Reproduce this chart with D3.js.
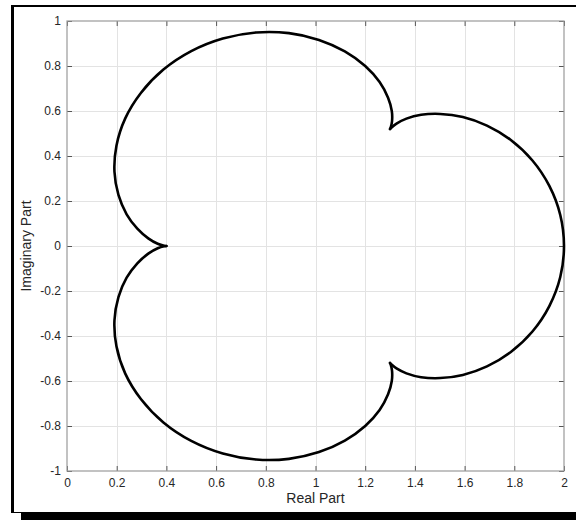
<!DOCTYPE html>
<html lang="en">
<head>
<meta charset="UTF-8">
<style>
  body { margin: 0; background: #fff; }
  text { font-family: "Liberation Sans", Arial, sans-serif; }
</style>
</head>
<body>
<svg id="chart" width="576" height="520"></svg>
<script src="https://d3js.org/d3.v7.min.js"></script>
<script>
// curve points [real, imaginary], one lobe per array (cusp to cusp)
var lobeLowerLeft = [
  [0.400, 0.000], [0.391, -0.001], [0.365, -0.010], [0.327, -0.034], [0.283, -0.077],
  [0.240, -0.141], [0.207, -0.227], [0.191, -0.330], [0.199, -0.446], [0.234, -0.566],
  [0.298, -0.681], [0.388, -0.784], [0.500, -0.866], [0.627, -0.922], [0.761, -0.949],
  [0.893, -0.946], [1.014, -0.916], [1.118, -0.865], [1.200, -0.800], [1.258, -0.729],
  [1.292, -0.659], [1.307, -0.600], [1.308, -0.555], [1.303, -0.528], [1.300, -0.520]
];
var lobeRight = [
  [1.300, -0.520], [1.306, -0.527], [1.326, -0.544], [1.366, -0.566], [1.425, -0.583],
  [1.502, -0.587], [1.593, -0.573], [1.690, -0.535], [1.786, -0.471], [1.873, -0.380],
  [1.941, -0.267], [1.985, -0.138], [2.000, 0.000], [1.985, 0.138], [1.941, 0.267],
  [1.873, 0.380], [1.786, 0.471], [1.690, 0.535], [1.593, 0.573], [1.502, 0.587],
  [1.425, 0.583], [1.366, 0.566], [1.326, 0.544], [1.306, 0.527], [1.300, 0.520]
];
var lobeUpperLeft = [
  [1.300, 0.520], [1.303, 0.528], [1.308, 0.555], [1.307, 0.600], [1.292, 0.659],
  [1.258, 0.729], [1.200, 0.800], [1.118, 0.865], [1.014, 0.916], [0.893, 0.946],
  [0.761, 0.949], [0.627, 0.922], [0.500, 0.866], [0.388, 0.784], [0.298, 0.681],
  [0.234, 0.566], [0.199, 0.446], [0.191, 0.330], [0.207, 0.227], [0.240, 0.141],
  [0.283, 0.077], [0.327, 0.034], [0.365, 0.010], [0.391, 0.001], [0.400, 0.000]
];
var xTicks = [0, 0.2, 0.4, 0.6, 0.8, 1, 1.2, 1.4, 1.6, 1.8, 2];
var yTicks = [-1, -0.8, -0.6, -0.4, -0.2, 0, 0.2, 0.4, 0.6, 0.8, 1];

var svg = d3.select("#chart");

// window frame around the figure
svg.append("line").attr("x1", 12.5).attr("x2", 12.5).attr("y1", 5).attr("y2", 513)
  .attr("stroke", "#000").attr("stroke-width", 3);
svg.append("line").attr("x1", 11).attr("x2", 576).attr("y1", 6).attr("y2", 6)
  .attr("stroke", "#000").attr("stroke-width", 2);
svg.append("line").attr("x1", 11).attr("x2", 21).attr("y1", 512.5).attr("y2", 512.5)
  .attr("stroke", "#000").attr("stroke-width", 1);
svg.append("rect").attr("x", 21).attr("y", 512).attr("width", 555).attr("height", 8)
  .attr("fill", "#000");

var pLeft = 67, pRight = 564, pTop = 21, pBottom = 471;
var x = d3.scaleLinear().domain([0, 2]).range([pLeft, pRight]);
var y = d3.scaleLinear().domain([-1, 1]).range([pBottom, pTop]);
var fmt = function(d) { return String(+d.toFixed(1)); };

// grid
var grid = svg.append("g").attr("stroke", "#e3e3e3").attr("stroke-width", 1);
grid.selectAll(".gx").data(xTicks.slice(1, -1)).enter().append("line")
  .attr("x1", d => Math.round(x(d)) + 0.5).attr("x2", d => Math.round(x(d)) + 0.5)
  .attr("y1", pTop).attr("y2", pBottom);
grid.selectAll(".gy").data(yTicks.slice(1, -1)).enter().append("line")
  .attr("y1", d => Math.round(y(d)) + 0.5).attr("y2", d => Math.round(y(d)) + 0.5)
  .attr("x1", pLeft).attr("x2", pRight);

// axes, ticks pointing inward
function styleAxis(g) {
  g.select(".domain").remove();
  g.selectAll(".tick line").attr("stroke", "#555");
  g.selectAll(".tick text").attr("fill", "#262626").style("font-size", "12px")
    .style("font-family", "'Liberation Sans', Arial, sans-serif");
}
svg.append("g").attr("transform", "translate(0," + pBottom + ")")
  .call(d3.axisBottom(x).tickValues(xTicks).tickFormat(fmt).tickSize(-5).tickPadding(7))
  .call(styleAxis);
svg.append("g").attr("transform", "translate(0," + pTop + ")")
  .call(d3.axisTop(x).tickValues(xTicks).tickFormat("").tickSize(-5))
  .call(styleAxis);
svg.append("g").attr("transform", "translate(" + pLeft + ",0)")
  .call(d3.axisLeft(y).tickValues(yTicks).tickFormat(fmt).tickSize(-5).tickPadding(6))
  .call(styleAxis);
svg.append("g").attr("transform", "translate(" + pRight + ",0)")
  .call(d3.axisRight(y).tickValues(yTicks).tickFormat("").tickSize(-5))
  .call(styleAxis);

// box
svg.append("rect").attr("x", pLeft).attr("y", pTop)
  .attr("width", pRight - pLeft).attr("height", pBottom - pTop)
  .attr("fill", "none").attr("stroke", "#9a9a9a").attr("stroke-width", 1.2);

// curve
var line = d3.line()
  .x(d => x(d[0]))
  .y(d => y(d[1]))
  .curve(d3.curveCatmullRom.alpha(0.5));
svg.append("g").selectAll("path")
  .data([lobeLowerLeft, lobeRight, lobeUpperLeft])
  .enter().append("path")
  .attr("d", line)
  .attr("fill", "none")
  .attr("stroke", "#000")
  .attr("stroke-width", 2.6)
  .attr("stroke-linecap", "round")
  .attr("stroke-linejoin", "round");

// axis labels
svg.append("text").attr("x", (pLeft + pRight) / 2).attr("y", 503)
  .attr("text-anchor", "middle").attr("fill", "#262626").style("font-size", "14px")
  .text("Real Part");
svg.append("text").attr("transform", "translate(31," + (pTop + pBottom) / 2 + ") rotate(-90)")
  .attr("text-anchor", "middle").attr("fill", "#262626").style("font-size", "14px")
  .text("Imaginary Part");
</script>
</body>
</html>
